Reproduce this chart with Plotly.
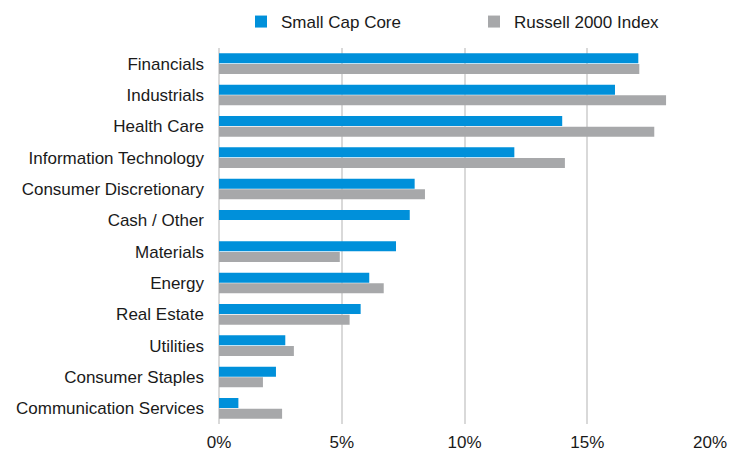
import plotly.graph_objects as go

categories = ["Financials", "Industrials", "Health Care", "Information Technology",
              "Consumer Discretionary", "Cash / Other", "Materials", "Energy",
              "Real Estate", "Utilities", "Consumer Staples", "Communication Services"]
small_cap_core = [17.08, 16.13, 13.98, 12.03, 7.97, 7.77, 7.21, 6.12, 5.77, 2.70, 2.32, 0.79]
russell_2000 = [17.12, 18.21, 17.73, 14.09, 8.39, None, 4.92, 6.71, 5.32, 3.05, 1.79, 2.57]
tick_vals = [0, 5, 10, 15, 20]
tick_text = ["0%", "5%", "10%", "15%", "20%"]

BLUE = "#0090DA"
GRAY = "#A7A8AA"
FONT = "Liberation Sans, Arial, sans-serif"

# page body has an 8px default margin, so the figure is 8px smaller than the window
W, H = 729, 444

fig = go.Figure()
fig.add_trace(go.Bar(y=categories, x=small_cap_core, orientation="h", name="Small Cap Core",
                     marker=dict(color=BLUE, line=dict(width=0))))
fig.add_trace(go.Bar(y=categories, x=russell_2000, orientation="h", name="Russell 2000 Index",
                     marker=dict(color=GRAY, line=dict(width=0))))

fig.update_layout(
    width=W, height=H,
    margin=dict(l=211, r=27, t=40, b=28, autoexpand=False),
    paper_bgcolor="white", plot_bgcolor="white",
    font=dict(family=FONT, size=17, color="#1a1a1a"),
    barmode="group", bargap=0.32, bargroupgap=0.06,
    showlegend=True,
    legend=dict(orientation="h", xref="container", x=233 / W, xanchor="left",
                yref="container", y=1 - 14 / H, yanchor="middle",
                font=dict(size=17), itemwidth=30, entrywidth=188, entrywidthmode="pixels",
                traceorder="normal", bgcolor="rgba(0,0,0,0)"),
    xaxis=dict(range=[0, 20], tickvals=tick_vals, ticktext=tick_text,
               showgrid=True, gridcolor="#D9D9D9", gridwidth=2,
               zeroline=True, zerolinecolor="#D9D9D9", zerolinewidth=2,
               showline=False, ticks="", fixedrange=True, automargin=False,
               ticklabelstandoff=6),
    yaxis=dict(autorange="reversed", showgrid=False, showline=False, ticks="",
               ticklabelstandoff=14, fixedrange=True, automargin=False),
)

fig.write_html("out.html")
